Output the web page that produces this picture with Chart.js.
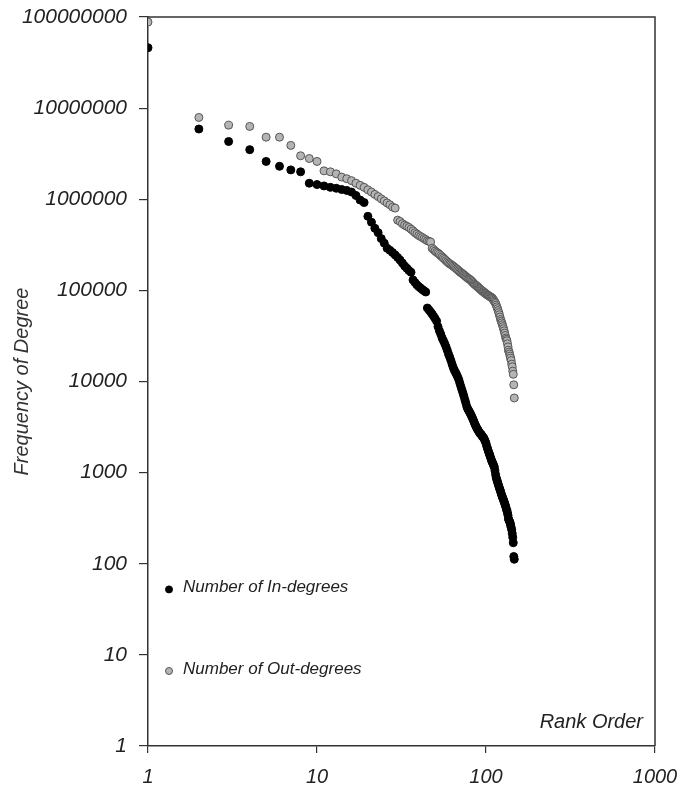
<!DOCTYPE html>
<html>
<head>
<meta charset="utf-8">
<script src="https://cdn.jsdelivr.net/npm/chart.js@4.4.1/dist/chart.umd.min.js"></script>
<style>
    html, body { margin:0; padding:0; background:#fff; }
    #wrap { width:681px; height:790px; }
</style>
</head>
<body>
<div id="wrap"><canvas id="grafico" width="681" height="790"></canvas></div>
<script>

// Datos (rango 1..147)

const inDegrees = [
    46000000, 5900000, 4300000, 3500000, 2600000, 2300000, 2100000, 2000000, 1500000, 1450000,
    1400000, 1350000, 1320000, 1280000, 1250000, 1200000, 1100000, 980000, 920000, 650000,
    560000, 480000, 430000, 370000, 330000, 290000, 275000, 260000, 245000, 230000,
    215000, 200000, 185000, 175000, 165000, 158000, 130000, 122000, 115000, 110000,
    106000, 102000, 99000, 96000, 64000, 61000, 58000, 55000, 52000, 49000,
    46000, 40000, 36000, 33000, 30000, 28000, 26000, 24000, 22000, 20000,
    18500, 17000, 15500, 14200, 13300, 12600, 11900, 11200, 10500, 9600,
    8800, 8100, 7500, 6900, 6300, 5800, 5300, 5000, 4800, 4600,
    4400, 4200, 4000, 3800, 3600, 3400, 3250, 3100, 3000, 2900,
    2800, 2700, 2650, 2600, 2500, 2450, 2400, 2300, 2200, 2100,
    1950, 1850, 1750, 1650, 1580, 1500, 1420, 1350, 1300, 1250,
    1200, 1150, 1050, 950, 880, 830, 790, 750, 710, 680,
    650, 620, 590, 560, 540, 520, 500, 480, 460, 440,
    420, 400, 380, 360, 340, 310, 300, 290, 280, 265,
    250, 235, 215, 195, 170, 120, 112
];

const outDegrees = [
    88000000, 7900000, 6500000, 6300000, 4800000, 4800000, 3900000, 3000000, 2800000, 2600000,
    2050000, 2000000, 1900000, 1750000, 1680000, 1600000, 1500000, 1420000, 1350000, 1270000,
    1200000, 1130000, 1070000, 1010000, 960000, 910000, 870000, 820000, 800000, 590000,
    570000, 540000, 520000, 505000, 490000, 470000, 450000, 430000, 415000, 400000,
    390000, 380000, 370000, 360000, 350000, 345000, 340000, 290000, 280000, 270000,
    262000, 255000, 248000, 240000, 233000, 226000, 219000, 212000, 206000, 200000,
    196000, 192000, 188000, 184000, 180000, 176000, 172000, 168000, 164000, 160000,
    157000, 154000, 151000, 148000, 145000, 142000, 139000, 136000, 134000, 132000,
    130000, 127000, 124000, 121000, 118000, 116000, 114000, 112000, 110000, 108000,
    106000, 104000, 102000, 100000, 99000, 97000, 96000, 94000, 93000, 92000,
    90000, 89000, 88000, 87000, 86000, 85000, 84000, 83000, 82000, 80000,
    78000, 76000, 74000, 72000, 69000, 66000, 63000, 60000, 57000, 54000,
    51000, 48000, 46000, 44000, 42000, 40000, 38000, 36000, 34000, 32000,
    30000, 29000, 28000, 26000, 24000, 22000, 21000, 20000, 19000, 18000,
    17000, 15500, 14500, 13000, 12000, 9200, 6600
];

const xTicks = [1, 10, 100, 1000];
const yTicks = [1, 10, 100, 1000, 10000, 100000, 1000000, 10000000, 100000000];

const seriesNames = ["Number of In-degrees", "Number of Out-degrees"];

// Estilos

const fuente = "'Liberation Sans', Arial, sans-serif";
const colorEje = "#333333";
const grisPunto = "#b4b4b4";

// Marco superior/derecho, leyenda y título del eje X dentro del área

const extras = {
    id: "extras",
    afterDraw(chart) {
        const c = chart.ctx;
        const a = chart.chartArea;

        c.save();
        c.strokeStyle = colorEje;
        c.lineWidth = 1.5;
        c.beginPath();
        c.moveTo(a.left, a.top);
        c.lineTo(a.right, a.top);
        c.lineTo(a.right, a.bottom);
        c.stroke();

        c.font = "italic 17px " + fuente;
        c.fillStyle = "#222";
        c.textBaseline = "middle";

        const ys = [chart.scales.y.getPixelForValue(55), chart.scales.y.getPixelForValue(7)];
        const estilos = [
            { fill: "#000", stroke: "#000" },
            { fill: grisPunto, stroke: "#555" }
        ];

        ys.forEach((yy, i) => {
            c.beginPath();
            c.arc(a.left + 21, yy + 2, 3.5, 0, Math.PI * 2);
            c.fillStyle = estilos[i].fill;
            c.fill();
            c.lineWidth = 1;
            c.strokeStyle = estilos[i].stroke;
            c.stroke();
            c.fillStyle = "#222";
            c.textAlign = "left";
            c.fillText(seriesNames[i], a.left + 35, yy);
        });

        c.font = "italic 20px " + fuente;
        c.textAlign = "right";
        c.fillText("Rank Order", a.right - 12, a.bottom - 24);
        c.restore();
    }
};

const ctx = document.getElementById("grafico");

new Chart(ctx, {

    type: "scatter",

    data: {
        datasets: [
            {
                label: seriesNames[0],
                data: inDegrees.map((v, i) => ({ x: i + 1, y: v })),
                backgroundColor: "#000000",
                borderColor: "#000000",
                borderWidth: 1,
                pointRadius: 4
            },
            {
                label: seriesNames[1],
                data: outDegrees.map((v, i) => ({ x: i + 1, y: v })),
                backgroundColor: grisPunto,
                borderColor: "#555555",
                borderWidth: 1,
                pointRadius: 4
            }
        ]
    },

    options: {

        responsive: false,
        animation: false,

        layout: {
            padding: { top: 17, right: 26, left: 0, bottom: 0 }
        },

        plugins: {
            legend: { display: false },
            tooltip: { enabled: false }
        },

        scales: {

            x: {
                type: "logarithmic",
                min: 1,
                max: 1000,
                afterBuildTicks: (s) => { s.ticks = xTicks.map(v => ({ value: v })); },
                afterFit: (s) => { s.height = 44; s.paddingLeft = 0; s.paddingRight = 0; },
                ticks: {
                    callback: (v) => String(v),
                    font: { family: fuente, size: 20, style: "italic" },
                    color: "#222",
                    padding: 12,
                    maxRotation: 0
                },
                grid: {
                    drawOnChartArea: false,
                    drawTicks: true,
                    tickLength: 7,
                    color: colorEje,
                    lineWidth: 1.2
                },
                border: { color: colorEje, width: 1.5 }
            },

            y: {
                type: "logarithmic",
                min: 1,
                max: 100000000,
                afterBuildTicks: (s) => { s.ticks = yTicks.map(v => ({ value: v })); },
                afterFit: (s) => { s.width = 148; s.paddingTop = 0; s.paddingBottom = 0; },
                ticks: {
                    callback: (v) => String(v),
                    font: { family: fuente, size: 21, style: "italic" },
                    color: "#222",
                    padding: 12
                },
                grid: {
                    drawOnChartArea: false,
                    drawTicks: true,
                    tickLength: 9,
                    color: colorEje,
                    lineWidth: 1.2
                },
                border: { color: colorEje, width: 1.5 },
                title: {
                    display: true,
                    text: "Frequency of Degree",
                    font: { family: fuente, size: 20, style: "italic" },
                    color: "#333",
                    padding: { top: 10, bottom: 0 }
                }
            }

        }

    },

    plugins: [extras]

});

</script>
</body>
</html>
